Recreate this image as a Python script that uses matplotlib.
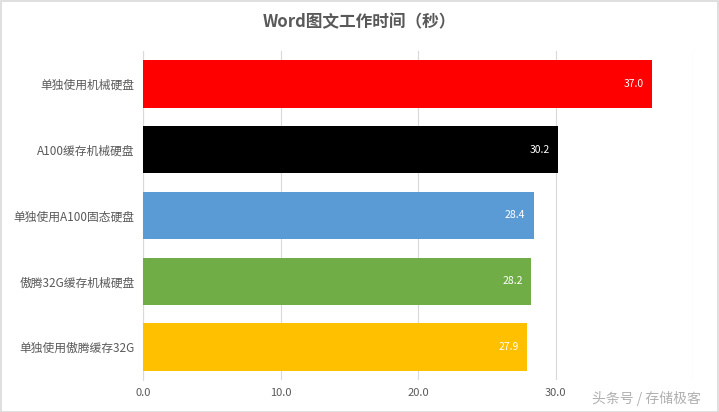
import matplotlib
matplotlib.use("Agg")
import matplotlib.pyplot as plt

plt.rcParams['font.family'] = ['Noto Sans CJK SC', 'DejaVu Sans']

categories = ["单独使用机械硬盘", "A100缓存机械硬盘", "单独使用A100固态硬盘",
              "傲腾32G缓存机械硬盘", "单独使用傲腾缓存32G"]
values = [37.0, 30.2, 28.4, 28.2, 27.9]
colors = ["#FF0000", "#000000", "#5B9BD5", "#70AD47", "#FFC000"]
xticks = [0, 10, 20, 30, 40]
# the 40.0 label is hidden behind the watermark in the original
xticklabels = ["0.0", "10.0", "20.0", "30.0", ""]

fig = plt.figure(figsize=(7.19, 4.12), dpi=100)
ax = fig.add_axes([0.199, 0.078, 0.765, 0.798])

ypos = list(range(len(categories)))
bars = ax.barh(ypos, values, height=0.72, color=colors, zorder=3)
ax.set_ylim(len(categories) - 0.5, -0.5)
ax.set_xlim(0, 40)
ax.set_xticks(xticks)
ax.set_xticklabels(xticklabels)
ax.set_yticks(ypos)
ax.set_yticklabels(categories, fontsize=8.5)

for b, v in zip(bars, values):
    ax.text(v - 0.6, b.get_y() + b.get_height() / 2, "%.1f" % v,
            ha="right", va="center", color="white", fontsize=7.5, zorder=4)

ax.grid(axis="x", color="#d9d9d9", linewidth=0.8, zorder=0)
for s in ["top", "right", "bottom"]:
    ax.spines[s].set_visible(False)
ax.spines["left"].set_color("#d9d9d9")
ax.tick_params(axis="both", length=0, colors="#595959")
ax.tick_params(axis="x", labelsize=8, pad=6)
ax.tick_params(axis="y", pad=6)

fig.text(0.5, 0.945, "Word图文工作时间（秒）", ha="center", va="center",
         fontsize=12, fontweight="bold", color="#595959")
fig.text(0.975, 0.032, "头条号 / 存储极客", ha="right", va="center",
         fontsize=10, color="#b0b0b0")

fig.patches.append(plt.Rectangle((0.001, 0.001), 0.997, 0.997, transform=fig.transFigure,
                                 fill=False, edgecolor="#d9d9d9", linewidth=1.2))

fig.savefig("out.png", dpi=100)
